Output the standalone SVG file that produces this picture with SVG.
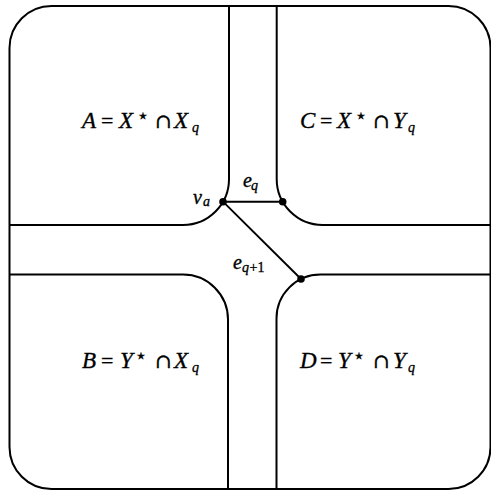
<svg xmlns="http://www.w3.org/2000/svg" width="491" height="490" viewBox="0 0 491 490">
  <style>
    .b { fill: none; stroke: #000; stroke-width: 2; }
    .e { fill: none; stroke: #000; stroke-width: 1.9; }
    .t { font-family: "Liberation Serif", "DejaVu Serif", serif; font-size: 23px; fill: #000; stroke: #000; stroke-width: 0.35; }
    .i { font-style: italic; }
    .s { font-size: 14px; font-style: italic; }
    .st { font-family: "DejaVu Sans", sans-serif; font-size: 19px; }
    .m { font-family: "DejaVu Serif", serif; font-size: 20px; }
    .q { font-size: 22px; }
    .d { fill: #000; }
  </style>
  <rect width="491" height="490" fill="#fff"/>
  <g id="frame">
    <rect class="b" x="9.5" y="6" width="481" height="483" rx="42"/>
  </g>
  <g id="regionA">
    <path class="b" d="M229,6 V179 A46,46 0 0 1 183,225 H9.5"/>
    <text class="t"><tspan class="i" x="82" y="128">A</tspan><tspan class="q" x="101" y="128">=</tspan><tspan class="i" x="119" y="128">X</tspan><tspan class="st" x="137" y="122">⋆</tspan><tspan class="m" x="155" y="128">∩</tspan><tspan class="i" x="174" y="128">X</tspan><tspan class="s" x="192" y="132">q</tspan></text>
  </g>
  <g id="regionC">
    <path class="b" d="M276.7,6 V179 A46,46 0 0 0 322.7,225 H490.5"/>
    <text class="t"><tspan class="i" x="300" y="128">C</tspan><tspan class="q" x="320" y="128">=</tspan><tspan class="i" x="337" y="128">X</tspan><tspan class="st" x="355" y="122">⋆</tspan><tspan class="m" x="373" y="128">∩</tspan><tspan class="i" x="393" y="128">Y</tspan><tspan class="s" x="408" y="132">q</tspan></text>
  </g>
  <g id="regionB">
    <path class="b" d="M9.5,274.5 H183 A45,45 0 0 1 228,319.5 V489"/>
    <text class="t"><tspan class="i" x="82" y="368">B</tspan><tspan class="q" x="101" y="368">=</tspan><tspan class="i" x="120" y="368">Y</tspan><tspan class="st" x="135" y="362">⋆</tspan><tspan class="m" x="155" y="368">∩</tspan><tspan class="i" x="174" y="368">X</tspan><tspan class="s" x="192" y="372">q</tspan></text>
  </g>
  <g id="regionD">
    <path class="b" d="M490.5,274.5 H320.5 A44,44 0 0 0 276.5,318.5 V489"/>
    <text class="t"><tspan class="i" x="300" y="368">D</tspan><tspan class="q" x="320" y="368">=</tspan><tspan class="i" x="338" y="368">Y</tspan><tspan class="st" x="353" y="362">⋆</tspan><tspan class="m" x="373" y="368">∩</tspan><tspan class="i" x="393" y="368">Y</tspan><tspan class="s" x="408" y="372">q</tspan></text>
  </g>
  <g id="connectors">
    <line class="e" x1="223" y1="201.7" x2="282.7" y2="201.7" stroke-width="2.4"/>
    <line class="e" x1="223" y1="201.7" x2="301" y2="279"/>
    <text class="t" style="font-size:20px"><tspan class="i" x="243" y="186.5">e</tspan><tspan class="s" x="251" y="190">q</tspan></text>
    <text class="t" style="font-size:20px"><tspan class="i" x="233" y="268.5">e</tspan><tspan class="s" x="242" y="272">q</tspan><tspan x="249.5" y="272" style="font-size:14px">+1</tspan></text>
  </g>
  <g id="va">
    <circle class="d" cx="223" cy="201.7" r="3.8"/>
    <text class="t" style="font-size:20px"><tspan class="i" x="193" y="203.5">v</tspan><tspan class="s" x="203" y="206">a</tspan></text>
  </g>
  <g id="vq">
    <circle class="d" cx="282.7" cy="201.7" r="3.8"/>
  </g>
  <g id="vq1">
    <circle class="d" cx="301" cy="279" r="3.8"/>
  </g>
</svg>
